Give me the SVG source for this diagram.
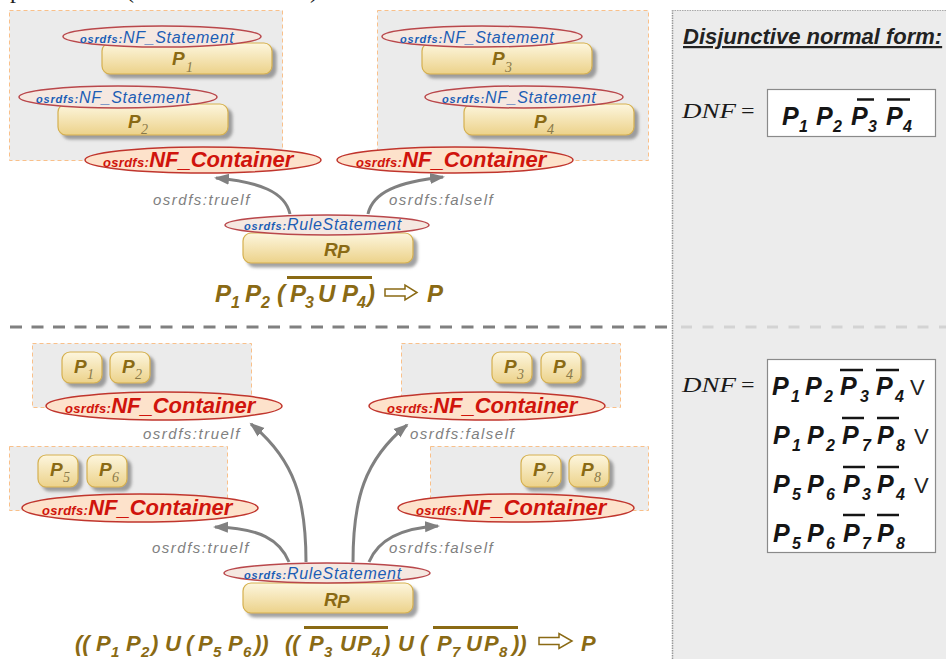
<svg xmlns="http://www.w3.org/2000/svg" width="946" height="659" viewBox="0 0 946 659">
<defs>
<linearGradient id="pg" x1="0" y1="0" x2="0" y2="1"><stop offset="0" stop-color="#fdf6de"/><stop offset="1" stop-color="#ecd28a"/></linearGradient>
<filter id="sh" x="-10%" y="-20%" width="130%" height="170%"><feDropShadow dx="4" dy="4" stdDeviation="1.5" flood-color="#7a7a7a" flood-opacity="0.7"/></filter>
<marker id="ah" markerUnits="userSpaceOnUse" markerWidth="16" markerHeight="14" refX="13" refY="7" orient="auto"><path d="M0,1.5 L15,7 L0,12.5 z" fill="#808080"/></marker>
<style>
.cbox{fill:#ebebeb;stroke:#f9c08a;stroke-width:1;stroke-dasharray:4 3}
.pbox{fill:url(#pg);stroke:#d5b04e;stroke-width:1.2;filter:url(#sh)}
.stmt{fill:#f5e8e1;stroke:#b9474b;stroke-width:1.5}
.cont{fill:#fde2cb;stroke:#c0352d;stroke-width:1.5}
.ss{font-family:"Liberation Sans",Arial,sans-serif;font-style:italic}
.bo{font-size:11px;font-weight:bold;letter-spacing:0.8px}
.bl{fill:#1c5db5}
.bn{font-size:16px;letter-spacing:0.7px}
.rd{fill:#d0140c}
.ro{font-size:13px;font-weight:bold;letter-spacing:0.3px}
.rn{font-size:22px;font-weight:bold}
.pl{font-family:"Liberation Sans",Arial,sans-serif;font-style:italic;font-weight:bold;font-size:19px;fill:#8a6a14}
.psub{font-family:"Liberation Serif","Times New Roman",serif;font-style:italic;font-size:14px;fill:#8a7a4a}
.edge{fill:none;stroke:#808080;stroke-width:3;marker-end:url(#ah)}
.lbl{font-family:"Liberation Sans",Arial,sans-serif;font-style:italic;font-size:15px;letter-spacing:1.5px;fill:#808080}
.f{font-family:"Liberation Sans",Arial,sans-serif;font-style:italic;font-weight:bold;font-size:24px;fill:#8a6a14}
.f2{font-size:22px}
.fs{font-size:16px}
.fs2{font-size:15px}
.ol{stroke:#8a6a14;stroke-width:3}
.harrow{fill:#fff;stroke:#8a6a14;stroke-width:1.5}
.d{font-family:"Liberation Sans",Arial,sans-serif;font-style:italic;font-weight:bold;font-size:25px;fill:#151515}
.ds{font-size:16px}
.dol{stroke:#151515;stroke-width:2.5}
.v{font-family:"Liberation Sans",Arial,sans-serif;font-size:22px;fill:#222}
.dnf{font-family:"Liberation Serif","Times New Roman",serif;font-size:20px;fill:#1a1a1a}
</style>
</defs>
<rect width="946" height="659" fill="#fff"/>
<!-- partially visible caption at the top edge -->
<g font-family="Liberation Serif,serif" font-size="24" fill="#222">
<text x="10" y="-2">p</text><text x="126" y="-2">(</text><text x="310" y="-2">)</text>
</g>
<!-- right panel -->
<g id="dnf-panel">
<rect x="672" y="10" width="274" height="649" fill="#ececec"/>
<line x1="672.5" y1="10" x2="672.5" y2="659" stroke="#999" stroke-width="1.5" stroke-dasharray="1.5 1"/>
<line x1="672" y1="10.5" x2="946" y2="10.5" stroke="#aaa" stroke-width="1" stroke-dasharray="1.5 1"/>
<text x="683" y="44" font-family="Liberation Sans,Arial,sans-serif" font-style="italic" font-weight="bold" font-size="22" fill="#222" text-decoration="underline">Disjunctive normal form:</text>
</g>
<!-- divider -->
<line x1="10" y1="327" x2="672" y2="327" stroke="#808080" stroke-width="3" stroke-dasharray="12 9.5"/>
<line x1="681" y1="327" x2="946" y2="327" stroke="#d3d3d3" stroke-width="3" stroke-dasharray="11 10.5"/>

<!-- ============ TOP SECTION ============ -->
<g id="top-true-container">
<rect class="cbox" x="9.5" y="10.5" width="273" height="150"/>
<g id="top-p1">
<rect class="pbox" x="102" y="43" width="170" height="31" rx="8"/>
<text class="pl" x="172" y="65">P</text><text class="psub" x="186" y="72">1</text>
<ellipse class="stmt" cx="162" cy="36.5" rx="99" ry="10.5"/>
<text class="ss bl" x="80" y="43"><tspan class="bo">osrdfs:</tspan><tspan class="bn">NF_Statement</tspan></text>
</g>
<g id="top-p2">
<rect class="pbox" x="58" y="104" width="170" height="31" rx="8"/>
<text class="pl" x="128" y="128">P</text><text class="psub" x="141" y="134">2</text>
<ellipse class="stmt" cx="118" cy="97" rx="99" ry="11"/>
<text class="ss bl" x="36" y="103"><tspan class="bo">osrdfs:</tspan><tspan class="bn">NF_Statement</tspan></text>
</g>
<ellipse class="cont" cx="203" cy="160" rx="118" ry="13"/>
<text class="ss rd" x="103" y="167"><tspan class="ro">osrdfs:</tspan><tspan class="rn">NF_Container</tspan></text>
</g>

<g id="top-false-container">
<rect class="cbox" x="377.5" y="10.5" width="271" height="150"/>
<g id="top-p3">
<rect class="pbox" x="422" y="43" width="170" height="31" rx="8"/>
<text class="pl" x="492" y="65">P</text><text class="psub" x="505" y="72">3</text>
<ellipse class="stmt" cx="482" cy="36.5" rx="100" ry="10.5"/>
<text class="ss bl" x="400" y="43"><tspan class="bo">osrdfs:</tspan><tspan class="bn">NF_Statement</tspan></text>
</g>
<g id="top-p4">
<rect class="pbox" x="464" y="104" width="170" height="31" rx="8"/>
<text class="pl" x="534" y="128">P</text><text class="psub" x="547" y="134">4</text>
<ellipse class="stmt" cx="524" cy="97" rx="99" ry="11"/>
<text class="ss bl" x="442" y="103"><tspan class="bo">osrdfs:</tspan><tspan class="bn">NF_Statement</tspan></text>
</g>
<ellipse class="cont" cx="455" cy="160" rx="118" ry="13"/>
<text class="ss rd" x="356" y="167"><tspan class="ro">osrdfs:</tspan><tspan class="rn">NF_Container</tspan></text>
</g>

<g id="connectors-top">
<path class="edge" d="M290,214 C285,192 260,182 216,178"/>
<path class="edge" d="M368,214 C373,192 398,182 443,177"/>
<text class="lbl" x="153" y="205">osrdfs:truelf</text>
<text class="lbl" x="389" y="205">osrdfs:falself</text>
</g>

<g id="top-rule">
<rect class="pbox" x="243" y="233" width="170" height="30" rx="8"/>
<text class="pl" x="324" y="256" font-size="18">R</text><text class="pl" x="337" y="258" font-size="11">P</text>
<ellipse class="stmt" cx="327" cy="225" rx="102" ry="10"/>
<text class="ss bl" x="244" y="230"><tspan class="bo">osrdfs:</tspan><tspan class="bn">RuleStatement</tspan></text>
</g>

<g id="top-formula">
<text class="f"><tspan x="215" y="302">P</tspan><tspan class="fs" x="231" y="308">1</tspan><tspan x="245" y="302">P</tspan><tspan class="fs" x="261" y="308">2</tspan><tspan x="277" y="302">(</tspan><tspan x="290" y="302">P</tspan><tspan class="fs" x="305" y="308">3</tspan><tspan x="318" y="302">U</tspan><tspan x="342" y="302">P</tspan><tspan class="fs" x="357" y="308">4</tspan><tspan x="367" y="302">)</tspan><tspan x="427" y="302">P</tspan></text>
<line class="ol" x1="287" y1="277.5" x2="372" y2="277.5"/>
<polygon class="harrow" points="385,289 405,289 405,285 417,292.5 405,300 405,296 385,296"/>
</g>

<g id="top-dnf">
<text class="dnf" font-style="italic" transform="translate(682,118) scale(1.35,1)">DNF</text><text class="dnf" font-size="24" transform="translate(741,118) scale(1.2,1)">=</text>
<rect x="767.5" y="89.5" width="168" height="47" fill="#fff" stroke="#8a8a8a" stroke-width="1.2"/>
<text class="d"><tspan x="782" y="125">P</tspan><tspan class="ds" x="799" y="132">1</tspan><tspan x="816" y="125">P</tspan><tspan class="ds" x="833" y="132">2</tspan><tspan x="851" y="125">P</tspan><tspan class="ds" x="868" y="132">3</tspan><tspan x="886" y="125">P</tspan><tspan class="ds" x="903" y="132">4</tspan></text>
<line class="dol" x1="857" y1="99.5" x2="874" y2="99.5"/>
<line class="dol" x1="887" y1="99.5" x2="910" y2="99.5"/>
</g>

<!-- ============ BOTTOM SECTION ============ -->
<g id="bot-true-container-1">
<rect class="cbox" x="32.5" y="343.5" width="219" height="64"/>
<g id="b-p1"><rect class="pbox" x="62" y="352" width="40" height="31" rx="8"/><text class="pl" x="74" y="373">P</text><text class="psub" x="87" y="379">1</text></g>
<g id="b-p2"><rect class="pbox" x="110" y="352" width="40" height="31" rx="8"/><text class="pl" x="122" y="373">P</text><text class="psub" x="135" y="379">2</text></g>
<ellipse class="cont" cx="164" cy="406" rx="118" ry="14"/>
<text class="ss rd" x="65" y="413"><tspan class="ro">osrdfs:</tspan><tspan class="rn">NF_Container</tspan></text>
</g>

<g id="bot-false-container-1">
<rect class="cbox" x="401.5" y="343.5" width="219" height="64"/>
<g id="b-p3"><rect class="pbox" x="492" y="352" width="40" height="31" rx="8"/><text class="pl" x="504" y="373">P</text><text class="psub" x="517" y="379">3</text></g>
<g id="b-p4"><rect class="pbox" x="541" y="352" width="40" height="31" rx="8"/><text class="pl" x="553" y="373">P</text><text class="psub" x="566" y="379">4</text></g>
<ellipse class="cont" cx="487" cy="406" rx="118" ry="14"/>
<text class="ss rd" x="387" y="413"><tspan class="ro">osrdfs:</tspan><tspan class="rn">NF_Container</tspan></text>
</g>

<g id="bot-true-container-2">
<rect class="cbox" x="9.5" y="446.5" width="218" height="64"/>
<g id="b-p5"><rect class="pbox" x="38" y="455" width="40" height="32" rx="8"/><text class="pl" x="50" y="476">P</text><text class="psub" x="63" y="482">5</text></g>
<g id="b-p6"><rect class="pbox" x="87" y="455" width="40" height="32" rx="8"/><text class="pl" x="99" y="476">P</text><text class="psub" x="112" y="482">6</text></g>
<ellipse class="cont" cx="140" cy="508" rx="118" ry="14"/>
<text class="ss rd" x="42" y="515"><tspan class="ro">osrdfs:</tspan><tspan class="rn">NF_Container</tspan></text>
</g>

<g id="bot-false-container-2">
<rect class="cbox" x="430.5" y="446.5" width="218" height="64"/>
<g id="b-p7"><rect class="pbox" x="521" y="455" width="40" height="32" rx="8"/><text class="pl" x="533" y="476">P</text><text class="psub" x="546" y="482">7</text></g>
<g id="b-p8"><rect class="pbox" x="569" y="455" width="40" height="32" rx="8"/><text class="pl" x="581" y="476">P</text><text class="psub" x="594" y="482">8</text></g>
<ellipse class="cont" cx="516" cy="508" rx="118" ry="14"/>
<text class="ss rd" x="416" y="515"><tspan class="ro">osrdfs:</tspan><tspan class="rn">NF_Container</tspan></text>
</g>

<g id="connectors-bottom">
<path class="edge" d="M306,562 C306,500 295,460 251,424"/>
<path class="edge" d="M289,562 C280,540 260,528 215,527"/>
<path class="edge" d="M353,562 C353,500 364,460 407,425"/>
<path class="edge" d="M369,562 C378,540 400,528 438,526"/>
<text class="lbl" x="143" y="439">osrdfs:truelf</text>
<text class="lbl" x="410" y="439">osrdfs:falself</text>
<text class="lbl" x="152" y="553">osrdfs:truelf</text>
<text class="lbl" x="389" y="553">osrdfs:falself</text>
</g>

<g id="bot-rule">
<rect class="pbox" x="243" y="583" width="170" height="30" rx="8"/>
<text class="pl" x="324" y="606" font-size="18">R</text><text class="pl" x="337" y="608" font-size="11">P</text>
<ellipse class="stmt" cx="327" cy="573" rx="103" ry="10"/>
<text class="ss bl" x="244" y="579"><tspan class="bo">osrdfs:</tspan><tspan class="bn">RuleStatement</tspan></text>
</g>

<g id="bot-formula">
<text class="f f2"><tspan x="75" y="651">((</tspan><tspan x="96" y="651">P</tspan><tspan class="fs2" x="111" y="657">1</tspan><tspan x="126" y="651">P</tspan><tspan class="fs2" x="141" y="657">2</tspan><tspan x="151" y="651">)</tspan><tspan x="165" y="651">U</tspan><tspan x="186" y="651">(</tspan><tspan x="198" y="651">P</tspan><tspan class="fs2" x="213" y="657">5</tspan><tspan x="228" y="651">P</tspan><tspan class="fs2" x="243" y="657">6</tspan><tspan x="254" y="651">))</tspan><tspan x="285" y="651">((</tspan><tspan x="309" y="651">P</tspan><tspan class="fs2" x="324" y="657">3</tspan><tspan x="340" y="651">U</tspan><tspan x="357" y="651">P</tspan><tspan class="fs2" x="372" y="657">4</tspan><tspan x="383" y="651">)</tspan><tspan x="398" y="651">U</tspan><tspan x="420" y="651">(</tspan><tspan x="437" y="651">P</tspan><tspan class="fs2" x="452" y="657">7</tspan><tspan x="466" y="651">U</tspan><tspan x="484" y="651">P</tspan><tspan class="fs2" x="499" y="657">8</tspan><tspan x="512" y="651">))</tspan><tspan x="581" y="651">P</tspan></text>
<line class="ol" x1="304" y1="627.5" x2="388" y2="627.5"/>
<line class="ol" x1="433" y1="627.5" x2="518" y2="627.5"/>
<polygon class="harrow" points="539,637.5 559,637.5 559,633.5 572,641 559,648.5 559,644.5 539,644.5"/>
</g>

<g id="bot-dnf">
<text class="dnf" font-style="italic" transform="translate(682,392) scale(1.35,1)">DNF</text><text class="dnf" font-size="24" transform="translate(741,392) scale(1.2,1)">=</text>
<rect x="767.5" y="359.5" width="168" height="193" fill="#fff" stroke="#8a8a8a" stroke-width="1.2"/>
<text class="d"><tspan x="772" y="395">P</tspan><tspan class="ds" x="791" y="402">1</tspan><tspan x="805" y="395">P</tspan><tspan class="ds" x="824" y="402">2</tspan><tspan x="840" y="395">P</tspan><tspan class="ds" x="860" y="402">3</tspan><tspan x="876" y="395">P</tspan><tspan class="ds" x="895" y="402">4</tspan></text>
<text class="v" x="910" y="395">V</text>
<line class="dol" x1="840" y1="370" x2="863" y2="370"/><line class="dol" x1="876" y1="370" x2="899" y2="370"/>
<text class="d"><tspan x="773" y="444">P</tspan><tspan class="ds" x="792" y="451">1</tspan><tspan x="807" y="444">P</tspan><tspan class="ds" x="826" y="451">2</tspan><tspan x="842" y="444">P</tspan><tspan class="ds" x="862" y="451">7</tspan><tspan x="877" y="444">P</tspan><tspan class="ds" x="896" y="451">8</tspan></text>
<text class="v" x="914" y="444">V</text>
<line class="dol" x1="842" y1="418" x2="864" y2="418"/><line class="dol" x1="877" y1="418" x2="899" y2="418"/>
<text class="d"><tspan x="773" y="493">P</tspan><tspan class="ds" x="792" y="500">5</tspan><tspan x="807" y="493">P</tspan><tspan class="ds" x="826" y="500">6</tspan><tspan x="843" y="493">P</tspan><tspan class="ds" x="862" y="500">3</tspan><tspan x="877" y="493">P</tspan><tspan class="ds" x="896" y="500">4</tspan></text>
<text class="v" x="914" y="493">V</text>
<line class="dol" x1="843" y1="467" x2="865" y2="467"/><line class="dol" x1="877" y1="467" x2="899" y2="467"/>
<text class="d"><tspan x="773" y="542">P</tspan><tspan class="ds" x="792" y="549">5</tspan><tspan x="807" y="542">P</tspan><tspan class="ds" x="826" y="549">6</tspan><tspan x="843" y="542">P</tspan><tspan class="ds" x="862" y="549">7</tspan><tspan x="877" y="542">P</tspan><tspan class="ds" x="896" y="549">8</tspan></text>
<line class="dol" x1="843" y1="515" x2="865" y2="515"/><line class="dol" x1="877" y1="515" x2="899" y2="515"/>
</g>
</svg>
